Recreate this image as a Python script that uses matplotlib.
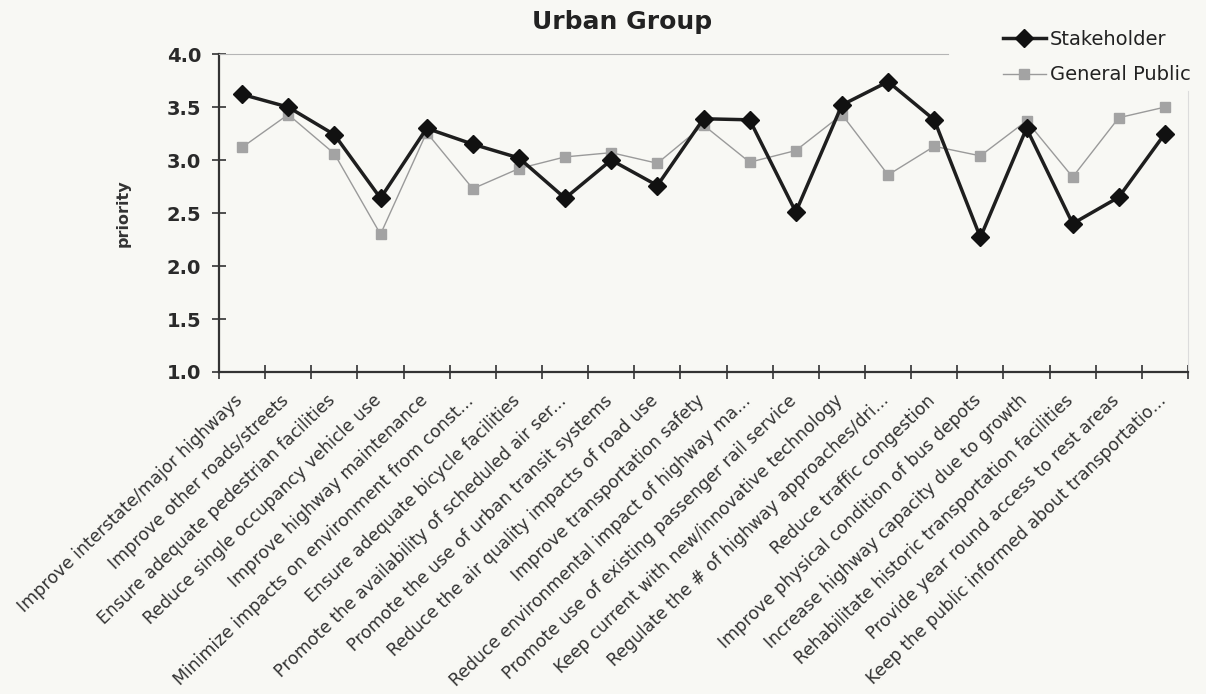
import matplotlib
matplotlib.use("Agg")
import matplotlib.pyplot as plt
import matplotlib.transforms as mtransforms
import numpy as np

categories = [
    "Improve interstate/major highways",
    "Improve other roads/streets",
    "Ensure adequate pedestrian facilities",
    "Reduce single occupancy vehicle use",
    "Improve highway maintenance",
    "Minimize impacts on environment from const...",
    "Ensure adequate bicycle facilities",
    "Promote the availability of scheduled air ser...",
    "Promote the use of urban transit systems",
    "Reduce the air quality impacts of road use",
    "Improve transportation safety",
    "Reduce environmental impact of highway ma...",
    "Promote use of existing passenger rail service",
    "Keep current with new/innovative technology",
    "Regulate the # of highway approaches/dri...",
    "Reduce traffic congestion",
    "Improve physical condition of bus depots",
    "Increase highway capacity due to growth",
    "Rehabilitate historic transportation facilities",
    "Provide year round access to rest areas",
    "Keep the public informed about transportatio...",
]
stakeholder = [3.62, 3.50, 3.24, 2.64, 3.30, 3.15, 3.02, 2.64, 3.00, 2.76, 3.39,
               3.38, 2.51, 3.52, 3.74, 3.38, 2.27, 3.30, 2.40, 2.65, 3.25]
general_public = [3.12, 3.43, 3.06, 2.30, 3.26, 2.73, 2.92, 3.03, 3.07, 2.97, 3.33,
                  2.98, 3.09, 3.43, 2.86, 3.13, 3.04, 3.37, 2.84, 3.40, 3.50]
y_ticks = [1.0, 1.5, 2.0, 2.5, 3.0, 3.5, 4.0]

bg = "#f8f8f4"
plt.rcParams["font.family"] = "DejaVu Sans"

fig = plt.figure(figsize=(12.06, 6.94), dpi=100, facecolor=bg)
ax = fig.add_axes([0.1816, 0.464, 0.8035, 0.458])
ax.set_facecolor(bg)

x = np.arange(len(categories))
ax.plot(x, stakeholder, color="#1e1e1e", lw=2.5, marker="D", ms=9,
        mfc="#111111", mec="#111111", label="Stakeholder", zorder=3)
ax.plot(x, general_public, color="#9a9a9a", lw=1.0, marker="s", ms=6.5,
        mfc="#a3a3a3", mec="#a3a3a3", label="General Public", zorder=2)

ax.set_xlim(-0.5, len(categories) - 0.5)
ax.set_ylim(1.0, 4.0)
ax.set_yticks(y_ticks)
ax.set_yticklabels([f"{v:.1f}" for v in y_ticks], fontsize=14,
                   fontweight="bold", color="#2a2a2a")

# category ticks sit between the categories, labels at the centres
ax.set_xticks(np.arange(len(categories) + 1) - 0.5)
ax.set_xticklabels([])
ax.set_xticks(x, minor=True)
ax.set_xticklabels(categories, minor=True, rotation=44, ha="right", va="top",
                   rotation_mode="anchor", fontsize=12.4, color="#333333")
ax.tick_params(axis="x", which="minor", length=0, pad=14)
ax.tick_params(axis="both", which="major", direction="inout", length=10,
               width=1.2, color="#333333")
ax.tick_params(axis="y", pad=8)

# nudge the slanted labels a little to the left
shift = mtransforms.ScaledTranslation(-8 / 100, 0, fig.dpi_scale_trans)
for lbl in ax.get_xticklabels(minor=True):
    lbl.set_transform(lbl.get_transform() + shift)

for side in ("left", "bottom"):
    ax.spines[side].set_color("#333333")
    ax.spines[side].set_linewidth(1.6)
ax.spines["top"].set_color("#b5b5b5")
ax.spines["top"].set_linewidth(0.8)
ax.spines["top"].set_bounds(-0.5, 15.3)
ax.spines["right"].set_color("#dcdcdc")
ax.spines["right"].set_linewidth(0.8)
ax.spines["right"].set_bounds(1.0, 3.65)

ax.set_ylabel("priority", fontsize=11.5, fontweight="bold", color="#333333",
              labelpad=26)

fig.text(0.516, 0.968, "Urban Group", ha="center", va="center",
         fontsize=18, fontweight="bold", color="#222222")

leg = ax.legend(loc="upper left", bbox_to_anchor=(0.795, 1.12), frameon=False,
                fontsize=14, handlelength=2.2, labelspacing=0.86,
                borderpad=0.2, handletextpad=0.2)
for t in leg.get_texts():
    t.set_color("#222222")

fig.savefig("out.png", dpi=100, facecolor=bg)
